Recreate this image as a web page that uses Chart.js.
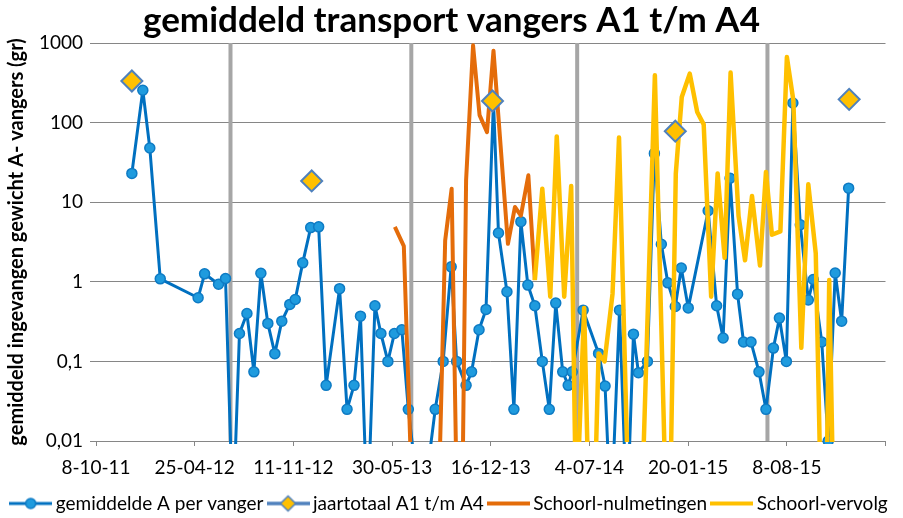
<!DOCTYPE html>
<html>
<head>
<meta charset="utf-8">
<script src="https://cdn.jsdelivr.net/npm/chart.js@4/dist/chart.umd.min.js"></script>
<style>
  html, body { margin: 0; padding: 0; background: #fff; }
</style>
</head>
<body>
<canvas id="chart" width="903" height="518"></canvas>
<script>
// x = dagen sinds 8-10-2011 (begin van de as)
const xTickLabels = ['8-10-11', '25-04-12', '11-11-12', '30-05-13', '16-12-13', '4-07-14', '20-01-15', '8-08-15'];
const yTickWaarden = [0.01, 0.1, 1, 10, 100, 1000];
const yTickLabels = ['0,01', '0,1', '1', '10', '100', '1000'];

// gemiddelde A per vanger (0.001 = nul, valt onder de as)
const gemDagen = [72, 94, 108, 129, 205, 218, 246, 260, 275, 288, 303, 317, 331, 345, 359, 373, 389, 400, 415, 431,
  447, 462, 489, 504, 518, 531, 545, 560, 572, 586, 599, 614, 627, 653, 681, 697, 713, 724, 743, 754,
  769, 783, 798, 808, 825, 839, 853, 867, 881, 896, 910, 923, 937, 948, 956, 978, 1009, 1022, 1034, 1051,
  1066, 1079, 1089, 1107, 1121, 1135, 1148, 1163, 1175, 1189, 1229, 1246, 1259, 1273, 1288, 1300, 1315, 1331, 1345, 1360,
  1372, 1386, 1399, 1414, 1430, 1440, 1457, 1470, 1484, 1497, 1511];
const gemWaarden = [23, 255, 48, 1.09, 0.63, 1.26, 0.93, 1.1, 0.001, 0.224, 0.4, 0.074, 1.28, 0.3, 0.125, 0.32, 0.52, 0.6, 1.73, 4.8,
  4.9, 0.05, 0.82, 0.025, 0.05, 0.37, 0.001, 0.5, 0.224, 0.1, 0.224, 0.25, 0.025, 0.001, 0.025, 0.1, 1.54, 0.1, 0.05, 0.074,
  0.25, 0.45, 185, 4.1, 0.75, 0.025, 5.7, 0.91, 0.5, 0.1, 0.025, 0.54, 0.074, 0.05, 0.074, 0.44, 0.126, 0.049, 0.001, 0.44,
  0.001, 0.22, 0.072, 0.1, 41, 2.96, 0.97, 0.49, 1.49, 0.47, 7.8, 0.5, 0.197, 20, 0.7, 0.175, 0.175, 0.074, 0.025, 0.147,
  0.35, 0.1, 176, 5.2, 0.59, 1.07, 0.175, 0.01, 1.29, 0.32, 15];

// jaartotaal A1 t/m A4
const jaarDagen = [72, 433, 796, 1163, 1512];
const jaarWaarden = [333, 18.5, 187, 78, 196];

// Schoorl-nulmetingen
const nulDagen = [600, 618, 636, 687, 701, 714, 725, 735, 743, 757, 770, 785, 798, 827, 841, 853, 868, 881];
const nulWaarden = [4.9, 2.8, 0.001, 0.001, 3.3, 14.8, 0.001, 0.001, 18.8, 935, 124, 76, 800, 3.0, 8.7, 6.8, 21.8, 1.05];

// Schoorl-vervolg
const vervolgDagen = [881, 896, 912, 925, 940, 954, 964, 980, 990, 1000, 1009, 1021, 1037, 1050, 1070, 1095, 1122, 1145, 1152, 1164,
  1176, 1192, 1207, 1220, 1235, 1248, 1262, 1274, 1290, 1303, 1317, 1333, 1345, 1357, 1374, 1387, 1400, 1416, 1430, 1445,
  1456, 1466, 1472, 1481];
const vervolgWaarden = [1.05, 14.8, 0.65, 67, 0.65, 16, 0.001, 0.47, 0.001, 0.001, 0.126, 0.1, 0.71, 65, 0.001, 0.001, 393, 0.001, 0.001, 22.9,
  210, 412, 136, 95, 0.65, 23, 2.0, 425, 6.7, 1.86, 12, 1.6, 24, 3.9, 4.3, 667, 190, 0.148, 16.8, 2.26,
  0.001, 0.001, 1.05, 0.001];

// grijze scheidingslijnen
const scheidingDagen = [270, 633, 966, 1348];

const FONT = 'Lato, "DejaVu Sans", sans-serif';
Chart.defaults.font.family = FONT;
Chart.defaults.color = '#000';

function toPoints(xs, ys) {
    return xs.map((x, i) => ({ x, y: ys[i] }));
}

// legendasymbool: lijn met (optioneel) marker
function legendIcon(lineColor, lineWidth, marker) {
    const c = document.createElement('canvas');
    c.width = 43;
    c.height = 22;
    const ctx = c.getContext('2d');
    ctx.strokeStyle = lineColor;
    ctx.lineWidth = lineWidth;
    ctx.beginPath();
    ctx.moveTo(0, 11);
    ctx.lineTo(43, 11);
    ctx.stroke();
    if (marker === 'circle') {
        ctx.beginPath();
        ctx.arc(21.5, 11, 5, 0, Math.PI * 2);
        ctx.fillStyle = '#1F9BDE';
        ctx.fill();
        ctx.lineWidth = 1.5;
        ctx.strokeStyle = '#0E7BC4';
        ctx.stroke();
    } else if (marker === 'diamond') {
        ctx.beginPath();
        ctx.moveTo(21.5, 3.5); ctx.lineTo(29, 11); ctx.lineTo(21.5, 18.5); ctx.lineTo(14, 11);
        ctx.closePath();
        ctx.fillStyle = '#FFC000';
        ctx.fill();
        ctx.lineWidth = 1.5;
        ctx.strokeStyle = '#4F81BD';
        ctx.stroke();
    }
    return c;
}

const legendIcons = [
    legendIcon('#0070C0', 3, 'circle'),
    legendIcon('#4F81BD', 3.5, 'diamond'),
    legendIcon('#E46C0A', 4, null),
    legendIcon('#FFC000', 4, null)
];

const datasets = [
    {
        label: 'gemiddelde A per vanger',
        data: toPoints(gemDagen, gemWaarden),
        borderColor: '#0070C0',
        borderWidth: 3,
        borderJoinStyle: 'round',
        pointRadius: 5,
        pointBackgroundColor: '#1F9BDE',
        pointBorderColor: '#0E7BC4',
        pointBorderWidth: 1.5,
        clip: 3,
        order: 3
    },
    {
        label: 'jaartotaal A1 t/m A4',
        data: toPoints(jaarDagen, jaarWaarden),
        showLine: false,
        borderColor: '#4F81BD',
        pointStyle: 'rectRot',
        pointRadius: 10.5,
        pointBackgroundColor: '#FFC000',
        pointBorderColor: '#4F81BD',
        pointBorderWidth: 2,
        order: 0
    },
    {
        label: 'Schoorl-nulmetingen',
        data: toPoints(nulDagen, nulWaarden),
        borderColor: '#E46C0A',
        borderWidth: 4,
        borderJoinStyle: 'round',
        pointRadius: 0,
        clip: 1,
        order: 2
    },
    {
        label: 'Schoorl-vervolg',
        data: toPoints(vervolgDagen, vervolgWaarden),
        borderColor: '#FFC000',
        borderWidth: 4.5,
        borderJoinStyle: 'round',
        pointRadius: 0,
        clip: 1,
        order: 1
    }
];

scheidingDagen.forEach(d => {
    datasets.push({
        label: 'scheiding',
        data: [{ x: d, y: 0.01 }, { x: d, y: 1000 }],
        borderColor: '#A6A6A6',
        borderWidth: 4,
        pointRadius: 0,
        clip: 0,
        order: 5
    });
});

new Chart(document.getElementById('chart'), {
    type: 'line',
    data: { datasets },
    options: {
        responsive: false,
        animation: false,
        layout: { padding: { left: 0, right: 0, top: 0, bottom: -5 } },
        plugins: {
            title: {
                display: true,
                text: 'gemiddeld transport vangers A1 t/m A4',
                color: '#000',
                font: { size: 35, weight: 'bold' },
                padding: { top: 0, bottom: 1 }
            },
            legend: {
                position: 'bottom',
                labels: {
                    usePointStyle: true,
                    pointStyleWidth: 31,
                    padding: 9,
                    font: { size: 19 },
                    generateLabels: () => legendIcons.map((icon, i) => ({
                        text: datasets[i].label,
                        pointStyle: icon,
                        datasetIndex: i,
                        fontColor: '#000',
                        lineWidth: 0,
                        strokeStyle: 'rgba(0,0,0,0)',
                        fillStyle: 'rgba(0,0,0,0)',
                        hidden: false
                    }))
                }
            },
            tooltip: { enabled: false }
        },
        scales: {
            x: {
                type: 'linear',
                min: 0,
                max: 1585,
                afterFit: (scale) => { scale.height = 44; },
                ticks: {
                    stepSize: 200,
                    includeBounds: false,
                    autoSkip: false,
                    maxRotation: 0,
                    padding: 10,
                    font: { size: 19 },
                    callback: (v) => xTickLabels[Math.round(v / 200)] ?? ''
                },
                grid: { drawOnChartArea: false, drawTicks: true, tickLength: 5, color: '#868686' },
                border: { display: true, color: '#868686' }
            },
            y: {
                type: 'logarithmic',
                min: 0.01,
                max: 1000,
                afterFit: (scale) => { scale.width = 96; },
                afterBuildTicks: (scale) => {
                    scale.ticks = yTickWaarden.map(v => ({ value: v, major: false }));
                },
                ticks: {
                    padding: 7,
                    font: { size: 19 },
                    callback: (v, i) => yTickLabels[i]
                },
                grid: { color: '#868686', tickLength: 6 },
                border: { display: false },
                title: {
                    display: true,
                    text: 'gemiddeld ingevangen gewicht A- vangers (gr)',
                    color: '#000',
                    font: { size: 20, weight: 'bold' },
                    padding: { top: 5, bottom: 0 }
                }
            },
            // lege as rechts, alleen voor de witruimte naast het plotvlak
            rechts: {
                position: 'right',
                afterFit: (scale) => { scale.width = 17.5; },
                ticks: { display: false },
                grid: { display: false },
                border: { display: false }
            }
        }
    }
});
</script>
</body>
</html>
